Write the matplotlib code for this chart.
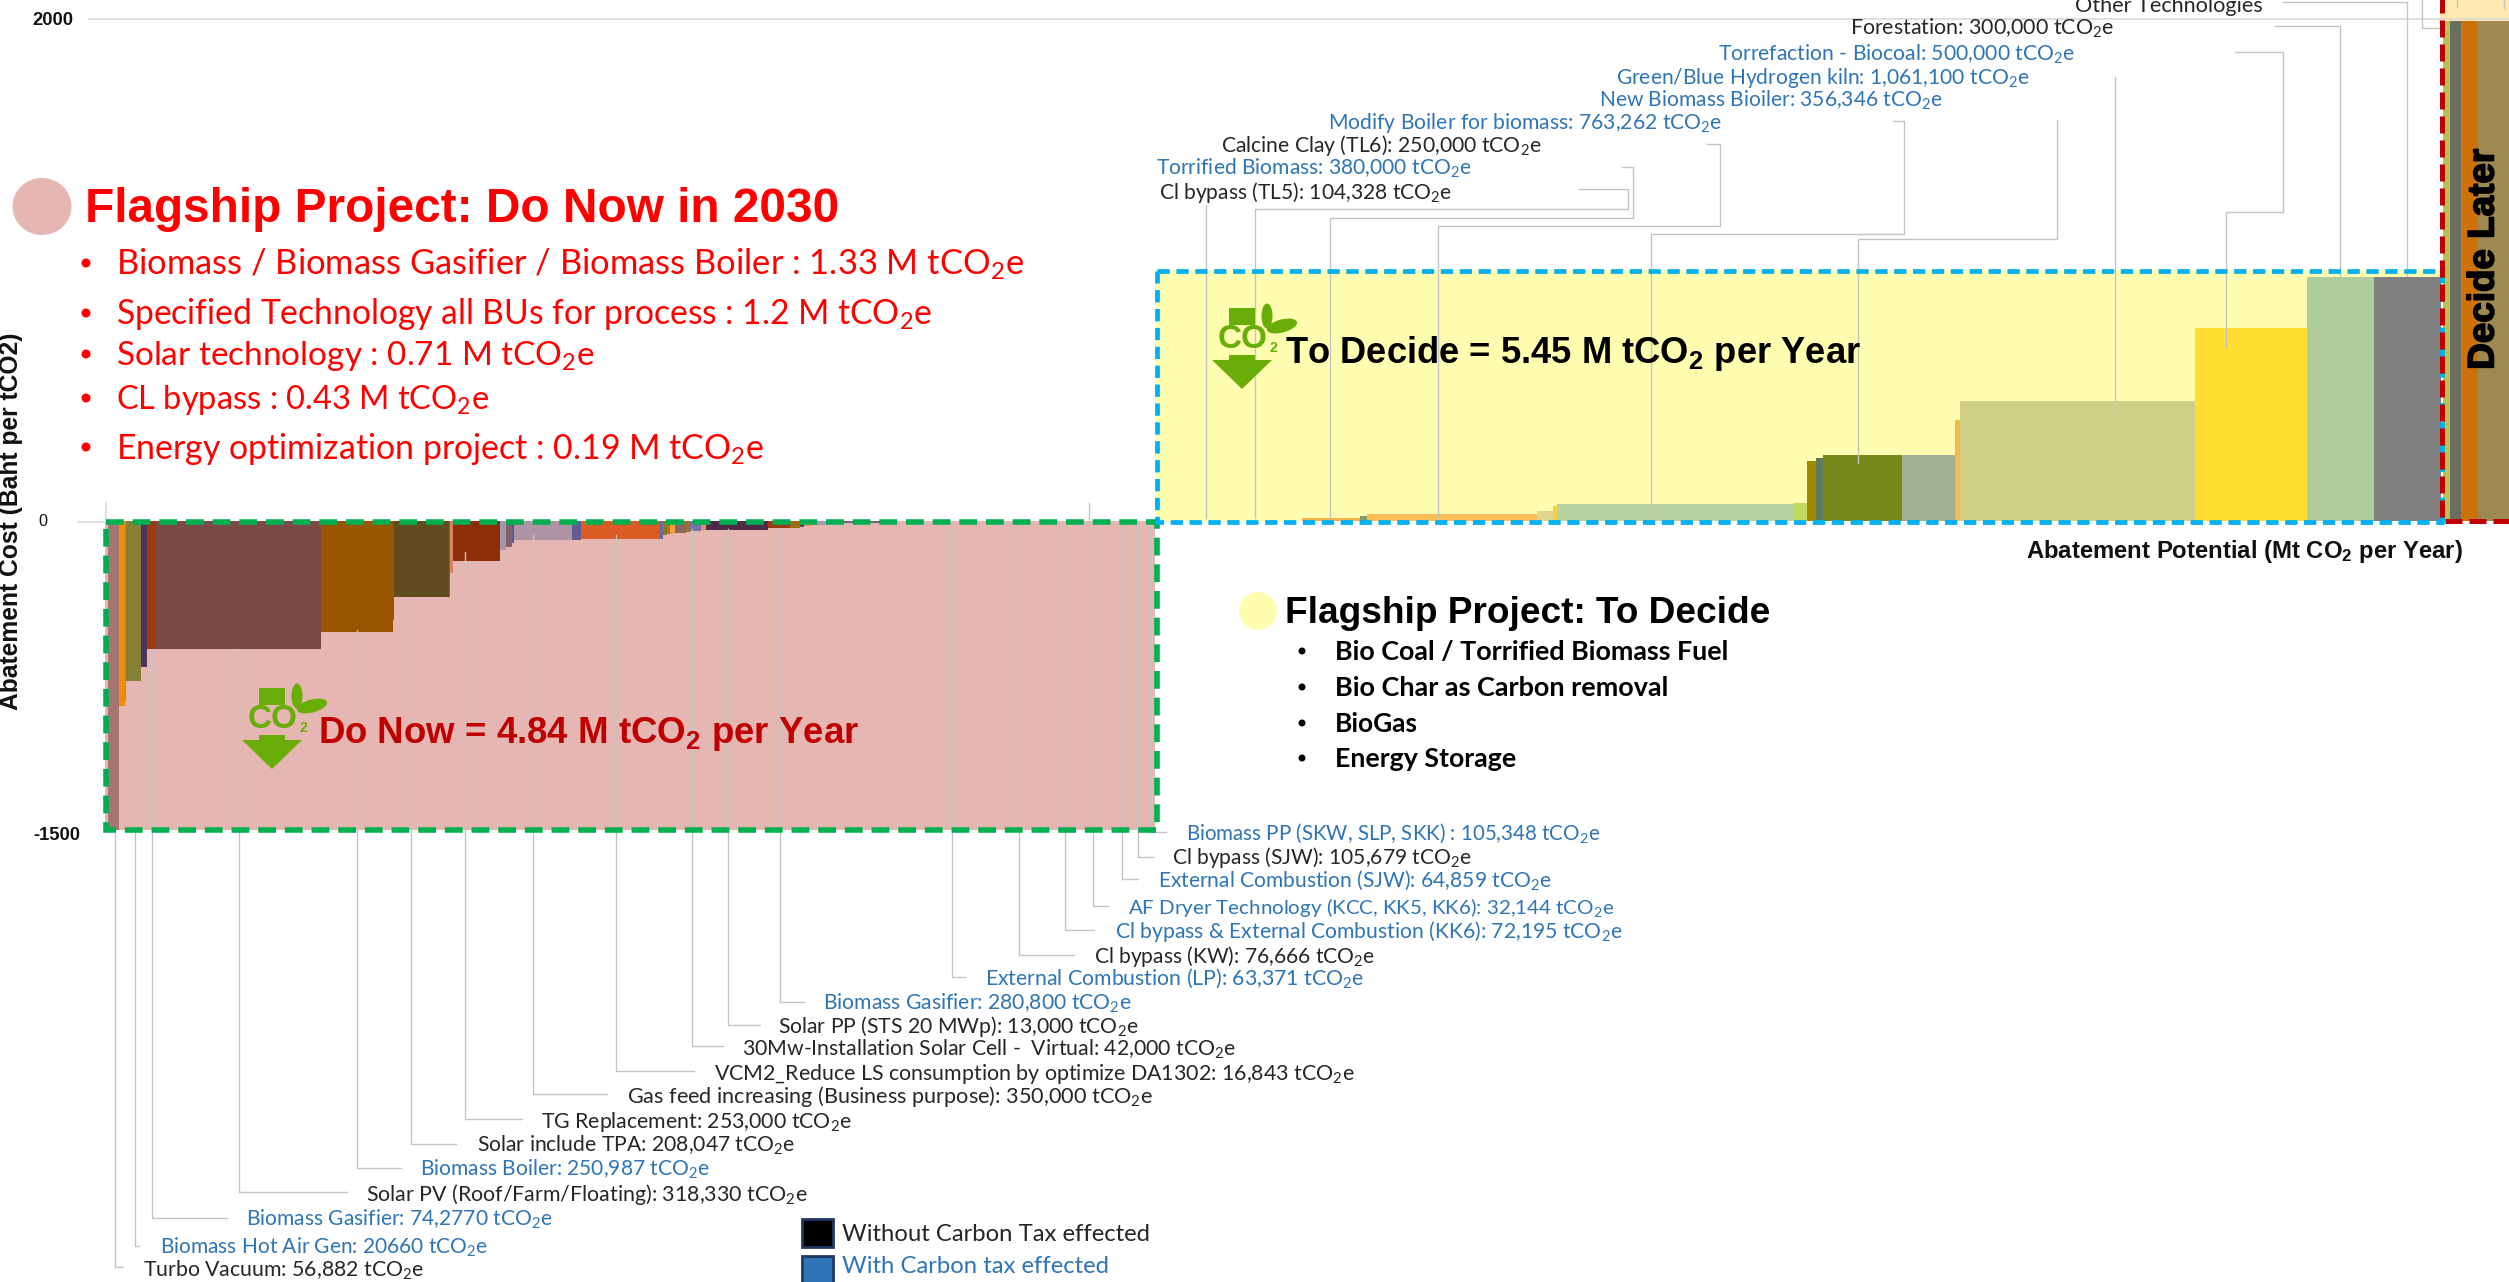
import numpy as np
import matplotlib
matplotlib.use('Agg')
import matplotlib.pyplot as plt
import matplotlib.patheffects as pe
from matplotlib.patches import Circle, Polygon, Rectangle, Ellipse

plt.rcParams['font.family'] = ['Lato', 'DejaVu Sans']
plt.rcParams['mathtext.default'] = 'regular'

W, H = 2509, 1282
PX_PER_MT = 217.0
X0_PX = 105.0

# Do Now bars, widths in Mt and cost in Baht per tCO2
now_widths = [0.054, 0.026, 0.007, 0.069, 0.025, 0.043, 0.759, 0.331, 0.007, 0.254, 0.003,
              0.012, 0.220, 0.027, 0.026, 0.009, 0.269, 0.042, 0.356, 0.022, 0.015, 0.015,
              0.022, 0.051, 0.022, 0.048, 0.023, 0.288, 0.099, 0.049, 0.015, 0.032, 0.074,
              0.037, 0.041, 0.120, 0.078]
now_costs = [-1500, -895, -872, -777, -706, -620, -620, -538, -481, -366, -366,
             -250, -195, -140, -125, -107, -91, -91, -84, -84, -66, -63,
             -61, -55, -50, -47, -42, -42, -34, -34, -26, -22, -19,
             -15, -12, -10, -8]
now_colors = ['#A67570', '#EE8E0A', '#8C8CB0', '#858033', '#4A3560', '#A03A0C', '#7A4A46',
              '#9A5500', '#5A5A80', '#604C1E', '#6B6B50', '#D8835E', '#8E2E08', '#A298AE',
              '#83606A', '#5F5A90', '#AE93A4', '#645C94', '#DB5C24', '#6C6CA0', '#8A7A20',
              '#C86A10', '#F0A040', '#8C6560', '#A07020', '#7870A8', '#E09060', '#4E2A48',
              '#9A3A10', '#A06A10', '#4A4A70', '#E0905A', '#A898B0', '#C09080', '#A05030',
              '#7A6080', '#6A6A70']

# To Decide bars
decide_widths = [0.268, 0.032, 0.783, 0.076, 0.016, 1.090, 0.065, 0.039, 0.032, 0.364,
                 0.247, 0.023, 1.083, 0.515, 0.308, 0.311]
decide_costs = [12, 22, 28, 41, 60, 67, 72, 240, 250, 262, 262, 403, 477, 767, 972, 970]
decide_colors = ['#F5B04A', '#7F9F70', '#F9BE58', '#DDD88E', '#F5D040', '#B8D2A0', '#C2D860',
                 '#A08A00', '#5E7B62', '#76881A', '#A0B090', '#F5B84A', '#D0CF86', '#FFDE32',
                 '#AECC9C', '#808080']
decide_start = 5.514  # first bar begins after a flat stretch

# Decide Later bars
later_widths = [0.032, 0.051, 0.078, 0.143]
later_costs = [1990, 1990, 1990, 1990]
later_colors = ['#B5C550', '#6A6E5E', '#CC7208', '#9E8A50']

now_total = 4.84
decide_total = 5.92


def y_fwd(v):
    v = np.asarray(v, dtype=float)
    return np.where(v >= 0, v * 0.2515, v * 0.206)


def y_inv(v):
    v = np.asarray(v, dtype=float)
    return np.where(v >= 0, v / 0.2515, v / 0.206)


fig = plt.figure(figsize=(W / 100, H / 100), dpi=100)
ax = fig.add_axes([0, 0, 1, 1])
ax.set_yscale('function', functions=(y_fwd, y_inv))
ax.set_xlim(-X0_PX / PX_PER_MT, (W - X0_PX) / PX_PER_MT)
ax.set_ylim(-761 / 0.206, 521.5 / 0.2515)
ax.axis('off')

# pixel overlay for the slide annotations
ov = fig.add_axes([0, 0, 1, 1], zorder=5)
ov.set_xlim(0, W)
ov.set_ylim(H, 0)
ov.axis('off')
ov.patch.set_alpha(0)
renderer = fig.canvas.get_renderer()

# background zones
ax.bar(0, -1500, width=now_total, align='edge', color='#E6B6B2', zorder=1)
ax.bar(now_total, 1000, width=decide_total, align='edge', color='#FFFDB0', zorder=1)
x_later = now_total + decide_total
ax.bar(x_later, 2100, bottom=1990, width=0.4, align='edge', color='#FFE9AE', zorder=1)

ax.bar(np.cumsum([0.012] + now_widths[:-1]), now_costs, width=now_widths, align='edge',
       color=now_colors, zorder=2)
ax.bar(decide_start + np.cumsum([0] + decide_widths[:-1]), decide_costs, width=decide_widths,
       align='edge', color=decide_colors, zorder=2)
ax.bar(x_later + 0.014 + np.cumsum([0] + later_widths[:-1]), later_costs, width=later_widths,
       align='edge', color=later_colors, zorder=2)

# gridlines
ov.plot([89, W], [19, 19], color='#D9D9D9', lw=1.2, zorder=1)
ov.plot([78, 106, 106], [521.5, 521.5, 503], color='#D9D9D9', lw=1.2, zorder=1)

# leaders
grey = '#C4C4C4'
leaders = [
    [(115, 830), (115, 1267), (123, 1267)],
    [(135, 681), (135, 1246), (139, 1246)],
    [(152, 649), (152, 1218), (227, 1218)],
    [(238.5, 649), (238.5, 1192), (347, 1192)],
    [(357, 630), (357, 1168), (401, 1168)],
    [(410.5, 600), (410.5, 1144), (456, 1144)],
    [(464.6, 552), (464.6, 1119), (522, 1119)],
    [(532.7, 535), (532.7, 1094), (607, 1094)],
    [(615.5, 535), (615.5, 1071), (694, 1071)],
    [(692, 529), (692, 1046), (723, 1046)],
    [(727.7, 529), (727.7, 1025), (760, 1025)],
    [(780, 529), (780, 1002), (804, 1002)],
    [(951.6, 525), (951.6, 977), (965, 977)],
    [(1018.6, 525), (1018.6, 955), (1074, 955)],
    [(1065, 525), (1065, 930), (1094, 930)],
    [(1089, 503), (1089, 525)],
    [(1092.5, 525), (1092.5, 906), (1108, 906)],
    [(1122.4, 525), (1122.4, 879), (1137.5, 879)],
    [(1137.5, 525), (1137.5, 857), (1153, 857)],
    [(1150, 525), (1150, 832), (1165.5, 832)],
    [(1206, 205), (1206, 518)],
    [(1579, 189), (1627.5, 189), (1627.5, 209), (1255, 209), (1255, 518)],
    [(1622, 167), (1632.7, 167), (1632.7, 218), (1330, 218), (1330, 518)],
    [(1707, 144), (1720, 144), (1720, 226), (1438, 226), (1438, 518)],
    [(1892.6, 121), (1904, 121), (1904, 234), (1651, 234), (1651, 518)],
    [(2057, 120), (2057, 239), (1858, 239), (1858, 463)],
    [(2115.3, 77), (2115.3, 417)],
    [(2235, 52), (2282.6, 52), (2282.6, 212), (2226, 212), (2226, 347)],
    [(2275, 26), (2340, 26), (2340, 276)],
    [(2282.6, 2), (2406.5, 2), (2406.5, 276)],
    [(2422, 0), (2422, 28), (2448, 28)],
    [(2456.7, 0), (2456.7, 7)],
    [(2504, 0), (2504, 8)],
]
for pts in leaders:
    xs, ys = zip(*pts)
    ov.plot(xs, ys, color=grey, lw=1.0, zorder=2)

# zone frames
ov.add_patch(Rectangle((105.5, 522), 1051, 308, fill=False, ec='#00B050', lw=4,
                       ls=(0, (3.2, 1.6)), zorder=3))
ov.add_patch(Rectangle((1157, 271), 1285, 251, fill=False, ec='#00B0F0', lw=3.4,
                       ls=(0, (2.6, 1.4)), zorder=3))
ov.add_patch(Rectangle((2442, -10), 90, 531, fill=False, ec='#C00000', lw=3.6,
                       ls=(0, (3.4, 1.4)), zorder=3))


def fit_text(x0, x1, y, s, **kw):
    # size a text so it runs from x0 to x1, y is the middle of its capitals
    t = ov.text(x0, y, s, ha='left', va='baseline', fontsize=20, **kw)
    fs = 20 * (x1 - x0) / t.get_window_extent(renderer).width
    t.set_fontsize(fs)
    t.set_y(y + 0.34 * fs * 100 / 72)
    return t


# axis titles and tick labels
ov.text(11, 521, 'Abatement Cost (Baht per tCO2)', rotation=90, ha='center', va='center',
        family='Liberation Sans', weight='bold', fontsize=17.7, color='#111111')
fit_text(2026, 2463, 550, 'Abatement Potential (Mt CO$_2$ per Year)',
         family='Liberation Sans', weight='bold', color='#111111')
fit_text(32, 73, 19, '2000', family='Liberation Sans', weight='bold', color='#111111')
fit_text(38, 47, 521, '0', family='Liberation Sans', color='#111111')
fit_text(33, 80, 834, '-1500', family='Liberation Sans', weight='bold', color='#111111')

# Flagship headings
ov.add_patch(Ellipse((42, 206.5), 59, 57, color='#E6B6B2', lw=0))
fit_text(85, 839, 206, 'Flagship Project: Do Now in 2030',
         family='Liberation Sans', weight='bold', color='#FF0000')
now_lines = ['Biomass / Biomass Gasifier / Biomass Boiler : 1.33 M tCO$_2$e',
             'Specified Technology all BUs for process : 1.2 M tCO$_2$e',
             'Solar technology : 0.71 M tCO$_2$e',
             'CL bypass : 0.43 M tCO$_2$e',
             'Energy optimization project : 0.19 M tCO$_2$e']
now_end = [1024, 931, 596, 490, 763.5]
now_y = [263, 313, 354, 398, 447]
for s, x1, y in zip(now_lines, now_end, now_y):
    ov.add_patch(Circle((86, y), 4.5, color='#FF0000', lw=0))
    fit_text(116.5, x1, y, s, color='#FF0000')

ov.add_patch(Circle((1258, 611), 19, color='#FFFDB0', lw=0))
fit_text(1285, 1769, 610, 'Flagship Project: To Decide',
         family='Liberation Sans', weight='bold', color='#000000')
decide_lines = ['Bio Coal / Torrified Biomass Fuel', 'Bio Char as Carbon removal',
                'BioGas', 'Energy Storage']
decide_end = [1729, 1669, 1418, 1516.5]
decide_y = [651, 687, 723, 758]
for s, x1, y in zip(decide_lines, decide_end, decide_y):
    ov.add_patch(Circle((1302, y), 3.5, color='#000000', lw=0))
    fit_text(1335, x1, y, s, weight='bold', color='#000000')

# zone captions
fit_text(318, 859, 731, 'Do Now = 4.84 M tCO$_2$ per Year',
         family='Liberation Sans', weight='bold', color='#C00000')
fit_text(1285, 1861, 351, 'To Decide = 5.45 M tCO$_2$ per Year',
         family='Liberation Sans', weight='bold', color='#000000')
ov.text(2484, 259.5, 'Decide Later', rotation=90, ha='center', va='center',
        family='Liberation Sans', weight='bold', fontsize=26.5, color='#000000',
        path_effects=[pe.withStroke(linewidth=1.2, foreground='#000000')])


def co2_icon(cx, top):
    g = '#68AD08'
    ov.add_patch(Rectangle((cx - 13, top), 26, 17, color=g, lw=0, zorder=4))
    ov.text(cx + 1, top + 32, 'CO', ha='center', va='center', family='Liberation Sans',
            weight='bold', fontsize=24, color=g, zorder=4)
    ov.text(cx + 31, top + 40, '2', ha='center', va='center', family='Liberation Sans',
            weight='bold', fontsize=10, color=g, zorder=4)
    ov.add_patch(Polygon([(cx - 13, top + 47), (cx + 13, top + 47), (cx + 13, top + 52),
                          (cx + 30, top + 52), (cx, top + 81), (cx - 30, top + 52),
                          (cx - 13, top + 52)], color=g, lw=0, zorder=4))
    ov.add_patch(Ellipse((cx + 25, top + 8), 11, 25, color=g, lw=0, zorder=4))
    ov.add_patch(Ellipse((cx + 40, top + 18), 31, 13, angle=-15, color=g, lw=0, zorder=4))


co2_icon(272, 688)
co2_icon(1242, 308)

# project labels
blue = '#2E75B6'
dark = '#262626'
labels = ['Turbo Vacuum: 56,882', 'Biomass Hot Air Gen: 20660', 'Biomass Gasifier: 74,2770',
          'Solar PV (Roof/Farm/Floating): 318,330', 'Biomass Boiler: 250,987',
          'Solar include TPA: 208,047', 'TG Replacement: 253,000',
          'Gas feed increasing (Business purpose): 350,000',
          'VCM2_Reduce LS consumption by optimize DA1302: 16,843',
          '30Mw-Installation Solar Cell -  Virtual: 42,000', 'Solar PP (STS 20 MWp): 13,000',
          'Biomass Gasifier: 280,800', 'External Combustion (LP): 63,371',
          'Cl bypass (KW): 76,666', 'Cl bypass & External Combustion (KK6): 72,195',
          'AF Dryer Technology (KCC, KK5, KK6): 32,144', 'External Combustion (SJW): 64,859',
          'Cl bypass (SJW): 105,679', 'Biomass PP (SKW, SLP, SKK) : 105,348',
          'Cl bypass (TL5): 104,328', 'Torrified Biomass: 380,000', 'Calcine Clay (TL6): 250,000',
          'Modify Boiler for biomass: 763,262', 'New Biomass Bioiler: 356,346',
          'Green/Blue Hydrogen kiln: 1,061,100', 'Torrefaction - Biocoal: 500,000',
          'Forestation: 300,000']
label_blue = [0, 1, 1, 0, 1, 0, 0, 0, 0, 0, 0, 1, 1, 0, 1, 1, 1, 0, 1, 0, 1, 0, 1, 1, 1, 1, 0]
label_x0 = [142.6, 159.5, 246.5, 366.5, 420.5, 476.7, 541, 627, 714, 742, 778.4, 823, 985,
            1094, 1114.6, 1128, 1158, 1172, 1186, 1159, 1156, 1221, 1328.5, 1599, 1616,
            1717.6, 1850]
label_x1 = [422.6, 485.8, 553, 807, 710, 794.5, 851.4, 1153, 1354, 1237, 1138, 1130, 1363,
            1374, 1620, 1613, 1551, 1471, 1600, 1452, 1471.5, 1541, 1723, 1942, 2030,
            2074, 2113]
label_y = [1269, 1247, 1219, 1194, 1169, 1145, 1121, 1096, 1073, 1048, 1026, 1003, 977.5, 956,
           931, 907, 880, 857, 833, 191.5, 167.5, 145, 122, 100, 76.5, 54, 27]
for s, b, x0, x1, y in zip(labels, label_blue, label_x0, label_x1, label_y):
    fit_text(x0, x1, y, s + ' tCO$_2$e', color=blue if b else dark)
fit_text(2074.6, 2262.6, 5, 'Other Technologies', color=dark)

# key
ov.add_patch(Rectangle((802, 1219), 31, 28, fc='#000000', ec='#1F3864', lw=2))
fit_text(841.6, 1151, 1233, 'Without Carbon Tax effected', color='#262626')
ov.add_patch(Rectangle((802, 1256), 31, 28, fc='#2E75B6', ec='#1F3864', lw=2))
fit_text(841.6, 1109.6, 1265, 'With Carbon tax effected', color='#2E75B6')

fig.savefig('out.png', dpi=100)
